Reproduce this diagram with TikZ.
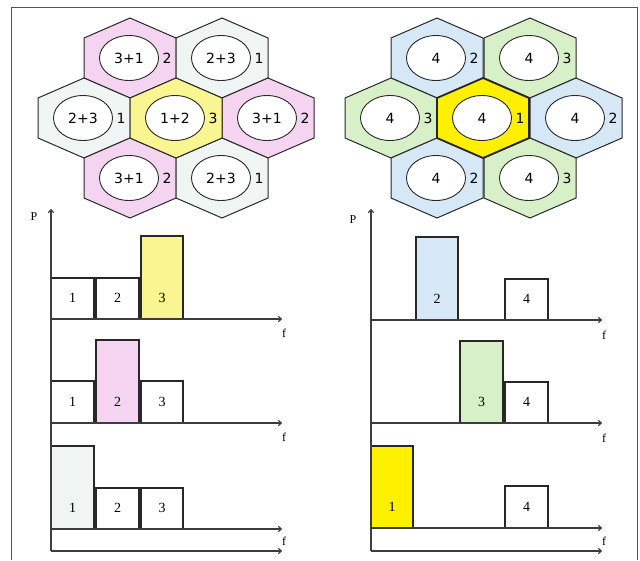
\documentclass[tikz,border=0pt]{standalone}
\usepackage{fontspec}
\setmainfont{Liberation Serif}
\newfontfamily\hexfont{DejaVu Sans}
\usetikzlibrary{arrows.meta,shapes.geometric}
\definecolor{pinkC}{RGB}{245,212,242}
\definecolor{paleC}{RGB}{238,245,242}
\definecolor{yelL}{RGB}{249,245,145}
\definecolor{yelR}{RGB}{255,240,0}
\definecolor{blueC}{RGB}{214,232,246}
\definecolor{greenC}{RGB}{216,240,200}
\definecolor{lineC}{RGB}{40,40,40}
\newcommand\hexcell[7][]{% name, cx, cy, fill, inner, side
  \filldraw[hexline,fill=#5,#1] (#3-46,#4-20) -- (#3,#4-40) -- (#3+46,#4-20) -- (#3+46,#4+20) -- (#3,#4+40) -- (#3-46,#4+20) -- cycle;
  \node[cellell] (#2e) at (#3-1,#4) {#6};
  \node[celllab] (#2n) at (#3+37,#4) {#7};
}
\newcommand\fbarr[7]{% name, x0, x1, base, top, fill, label
  \filldraw[barline,fill=#6] (#2,#4) rectangle (#3,#5);
  \node[barlab] (#1) at ({(#2+#3)/2},#4-21) {#7};
}
\begin{document}
\begin{tikzpicture}[x=1pt,y=-1pt,
  hexline/.style={draw=lineC,line width=1pt,line join=miter},
  cellell/.style={ellipse,draw=lineC,line width=0.9pt,fill=white,minimum width=59pt,minimum height=45pt,inner sep=0pt,font=\hexfont\fontsize{14}{17}\selectfont},
  celllab/.style={inner sep=0pt,font=\hexfont\fontsize{14}{17}\selectfont},
  barline/.style={draw=lineC,line width=1.1pt},
  barlab/.style={inner sep=0pt,font=\fontsize{14}{16}\selectfont},
  axis/.style={draw=lineC!90,line width=1.1pt},
  axarrow/.style={axis,-{To[length=4pt,width=6pt]}},
  axlab/.style={inner sep=0pt,font=\fontsize{12}{14}\selectfont},
  framel/.style={draw=lineC!80,line width=0.9pt}]
\useasboundingbox (0,0) rectangle (640,560);
\draw[framel] (11,560) -- (11,7) -- (637,7) -- (637,560);
% left cluster
\hexcell{lul}{130}{58}{pinkC}{3+1}{2}
\hexcell{lur}{222}{58}{paleC}{2+3}{1}
\hexcell{ll}{84}{118}{paleC}{2+3}{1}
\hexcell{lr}{268}{118}{pinkC}{3+1}{2}
\hexcell{lbl}{130}{178}{pinkC}{3+1}{2}
\hexcell{lbr}{222}{178}{paleC}{2+3}{1}
\hexcell{lc}{176}{118}{yelL}{1+2}{3}
% right cluster
\hexcell{rul}{437}{58}{blueC}{4}{2}
\hexcell{rur}{530}{58}{greenC}{4}{3}
\hexcell{rl}{391}{118}{greenC}{4}{3}
\hexcell{rr}{576}{118}{blueC}{4}{2}
\hexcell{rbl}{437}{178}{blueC}{4}{2}
\hexcell{rbr}{530}{178}{greenC}{4}{3}
\hexcell[line width=1.8pt]{rc}{483}{118}{yelR}{4}{1}
% left charts
\coordinate (lyb) at (51,551); \coordinate (lyt) at (51,209);
\coordinate (la1) at (51,319); \coordinate (la1e) at (282,319);
\coordinate (la2) at (51,423); \coordinate (la2e) at (282,423);
\coordinate (la3) at (51,529); \coordinate (la3e) at (282,529);
\coordinate (la4e) at (282,551);
\fbarr{lb11}{51}{94}{319}{278}{white}{1}
\fbarr{lb12}{96}{139}{319}{278}{white}{2}
\fbarr{lb13}{141}{183}{319}{236}{yelL}{3}
\fbarr{lb21}{51}{94}{423}{381}{white}{1}
\fbarr{lb22}{96}{139}{423}{340}{pinkC}{2}
\fbarr{lb23}{141}{183}{423}{381}{white}{3}
\fbarr{lb31}{51}{94}{529}{446}{paleC}{1}
\fbarr{lb32}{96}{139}{529}{488}{white}{2}
\fbarr{lb33}{141}{183}{529}{488}{white}{3}
\draw[axarrow] (lyb) -- (lyt);
\draw[axarrow] (la1) -- (la1e);
\draw[axarrow] (la2) -- (la2e);
\draw[axarrow] (la3) -- (la3e);
\draw[axarrow] (lyb) -- (la4e);
\node[axlab] (lP) at (34,217) {P};
\node[axlab] (lf1) at (284,333) {f};
\node[axlab] (lf2) at (284,437) {f};
\node[axlab] (lf3) at (284,541) {f};
% right charts
\coordinate (ryb) at (371,551); \coordinate (ryt) at (371,209);
\coordinate (ra1) at (371,320); \coordinate (ra1e) at (602,320);
\coordinate (ra2) at (371,423); \coordinate (ra2e) at (602,423);
\coordinate (ra3) at (371,528); \coordinate (ra3e) at (602,528);
\coordinate (ra4e) at (602,551);
\fbarr{rb12}{416}{458}{320}{237}{blueC}{2}
\fbarr{rb14}{505}{548}{320}{279}{white}{4}
\fbarr{rb23}{460}{503}{423}{341}{greenC}{3}
\fbarr{rb24}{505}{548}{423}{382}{white}{4}
\fbarr{rb31}{371}{413}{528}{446}{yelR}{1}
\fbarr{rb34}{505}{548}{528}{486}{white}{4}
\draw[axarrow] (ryb) -- (ryt);
\draw[axarrow] (ra1) -- (ra1e);
\draw[axarrow] (ra2) -- (ra2e);
\draw[axarrow] (ra3) -- (ra3e);
\draw[axarrow] (ryb) -- (ra4e);
\node[axlab] (rP) at (353,220) {P};
\node[axlab] (rf1) at (604,335) {f};
\node[axlab] (rf2) at (604,438) {f};
\node[axlab] (rf3) at (604,541) {f};
\end{tikzpicture}
\end{document}
